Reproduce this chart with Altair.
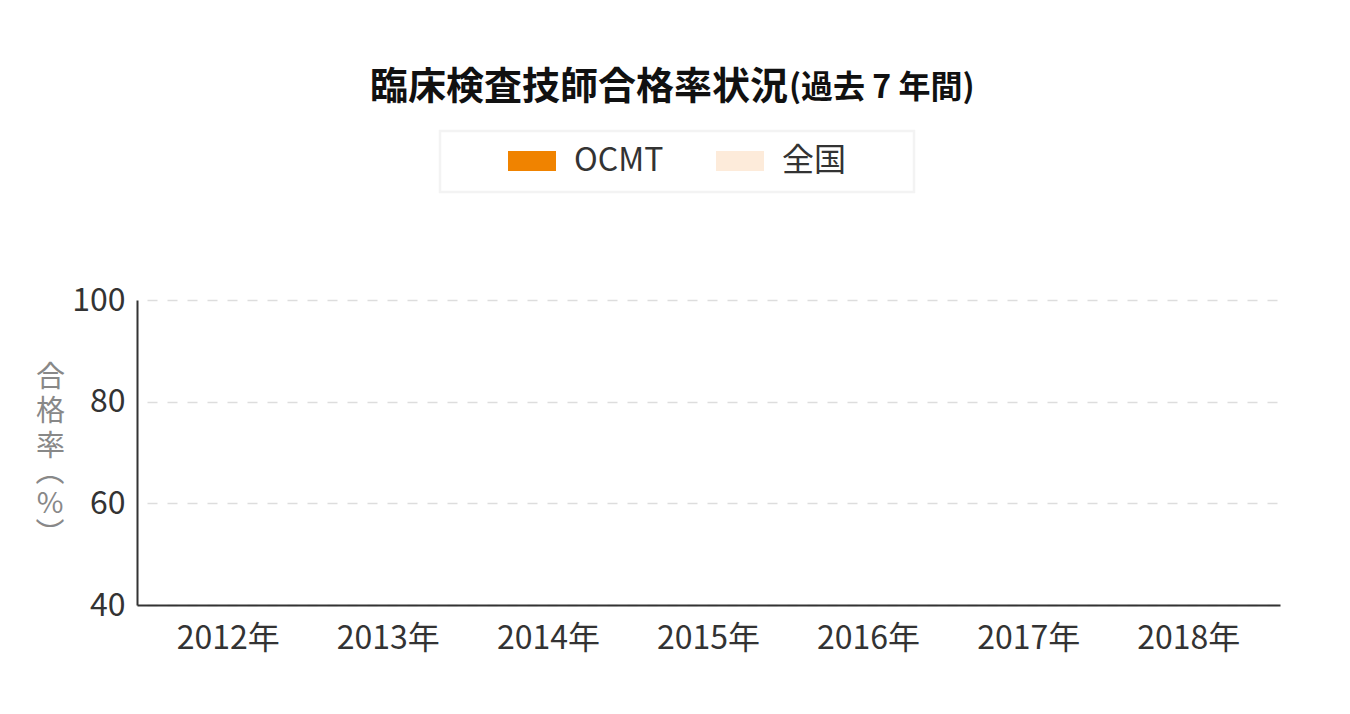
import altair as alt
import pandas as pd

years = ["2012年", "2013年", "2014年", "2015年", "2016年", "2017年", "2018年"]
series = ["OCMT", "全国"]
# No bars are visible in the reference (values not readable) -> null values
ocmt = [None, None, None, None, None, None, None]
national = [None, None, None, None, None, None, None]
y_ticks = [40, 60, 80, 100]
colors = ["#f08300", "#fdebda"]

FONT = "Noto Sans CJK JP"

rows = []
for i, y in enumerate(years):
    rows.append({"year": y, "series": series[0], "rate": ocmt[i]})
    rows.append({"year": y, "series": series[1], "rate": national[i]})
df = pd.DataFrame(rows)

# wide rectangle legend symbol (48 x 20 px at symbolSize 576)
rect_path = "M-1,-0.8333H3V0.8333H-1Z"

bars = alt.Chart(df).mark_bar().encode(
    x=alt.X("year:N", sort=years,
            scale=alt.Scale(domain=years, paddingInner=0.2, paddingOuter=0.17),
            axis=alt.Axis(title=None, labelAngle=0, labelFontSize=32, labelColor="#333333",
                          labelFont=FONT, labelPadding=18, ticks=False, domainColor="#333333",
                          domainWidth=2, grid=False, labelBaseline="top")),
    xOffset=alt.XOffset("series:N", sort=series, scale=alt.Scale(domain=series)),
    y=alt.Y("rate:Q", scale=alt.Scale(domain=[40, 100], nice=False, zero=False),
            axis=alt.Axis(values=y_ticks, title=["合", "格", "率"],
                          titleAngle=0, titleAlign="center", titleBaseline="top",
                          titleX=-87, titleY=63, titleFont=FONT, titleFontSize=29,
                          titleFontWeight="normal", titleColor="#888888", titleLineHeight=34.5,
                          labelFontSize=32, labelColor="#333333", labelFont=FONT,
                          labelPadding=12, ticks=False, domainColor="#333333", domainWidth=2,
                          gridColor="#dddddd", gridWidth=1.5, gridDash=[10, 10],
                          gridDashOffset=10)),
    color=alt.Color("series:N", sort=series,
                    scale=alt.Scale(domain=series, range=colors),
                    legend=alt.Legend(title=None, orient="none", direction="horizontal",
                                      legendX=367, legendY=-155,
                                      padding=0,
                                      symbolType=rect_path, symbolSize=576,
                                      symbolStrokeWidth=0, symbolOpacity=1,
                                      symbolOffset=0, labelOffset=38,
                                      columnPadding=48, labelFontSize=32,
                                      labelFont=FONT, labelColor="#333333")),
)

# y-axis title continuation: vertical-form parentheses, set tighter
unit_title = alt.Chart(alt.Data(values=[{}])).mark_text(
    text=["︵", "%", "︶"], font=FONT, fontSize=29, color="#888888",
    align="center", baseline="top", lineHeight=31
).encode(x=alt.value(-87), y=alt.value(159))

# frame around the legend
legend_box = alt.Chart(alt.Data(values=[{}])).mark_rect(
    fill="transparent", stroke="#f3f3f3", strokeWidth=2.5
).encode(x=alt.value(303), x2=alt.value(777), y=alt.value(-169), y2=alt.value(-108))

title_main = alt.Chart(alt.Data(values=[{}])).mark_text(
    text="臨床検査技師合格率状況", font=FONT, fontSize=38, fontWeight="bold",
    color="#111111", align="left", baseline="middle"
).encode(x=alt.value(233), y=alt.value(-212))

title_sub = alt.Chart(alt.Data(values=[{}])).mark_text(
    text="(過去 7 年間)", font=FONT, fontSize=32, fontWeight="bold",
    color="#111111", align="left", baseline="middle"
).encode(x=alt.value(652), y=alt.value(-212))

chart = alt.layer(legend_box, bars, unit_title, title_main, title_sub).properties(
    width=1143, height=305,
    autosize=alt.AutoSizeParams(type="none"),
    padding={"left": 129, "top": 292, "right": 62, "bottom": 101},
).configure(font=FONT).configure_view(stroke=None, strokeWidth=0)

chart.save("out.html", embed_options={"renderer": "svg", "actions": False})
